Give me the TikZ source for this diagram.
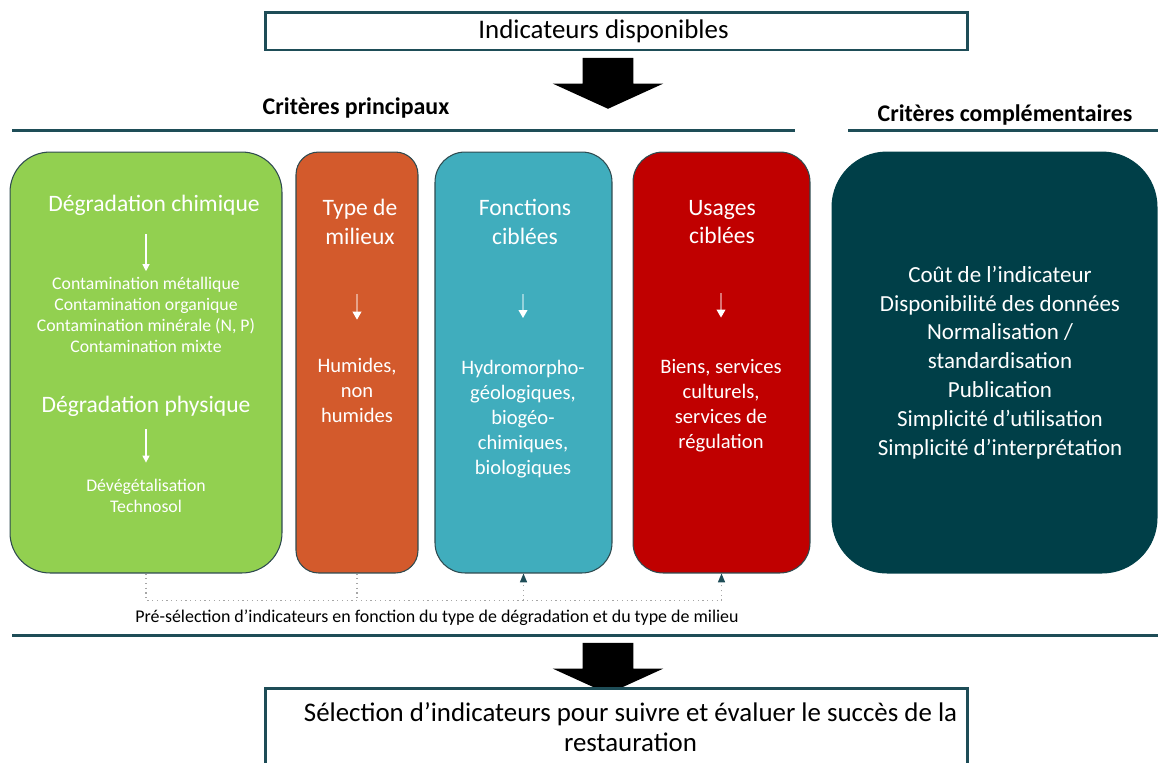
\documentclass[tikz,border=0pt]{standalone}
\usepackage{fontspec}
\setmainfont{Carlito}
\usetikzlibrary{arrows.meta,shapes.arrows}

\definecolor{vert}{HTML}{92D050}
\definecolor{orangebox}{HTML}{D35A2C}
\definecolor{tealbox}{HTML}{40ADBD}
\definecolor{redbox}{HTML}{C00000}
\definecolor{darkbox}{HTML}{003F48}
\definecolor{boxline}{HTML}{2E4A4F}
\definecolor{rule}{HTML}{1E4D57}
\definecolor{dots}{HTML}{A6A6A6}

\tikzset{
  crit/.style={draw=boxline, line width=0.6pt, minimum height=8.42cm, inner sep=0pt},
  titlebox/.style={draw=rule, line width=1.7pt, fill=white, minimum width=14.06cm,
    font=\fontsize{15.3}{17}\selectfont},
  crittitle/.style={font=\bfseries\fontsize{13.6}{16}\selectfont},
  heading/.style={text=white, align=center, font=\fontsize{13.4}{16.4}\selectfont},
  detail/.style={text=white, align=center, font=\fontsize{11.7}{14.2}\selectfont},
  smalldetail/.style={text=white, align=center, font=\fontsize{10.1}{11.9}\selectfont},
  complist/.style={text=white, align=center, font=\fontsize{13.1}{16.4}\selectfont},
  whitearrow/.style={white, line width=0.6pt, -{Triangle[width=4pt,length=4pt]}},
  fadearrow/.style={draw=#1!55!white, line width=0.6pt, -{Triangle[width=5pt,length=4.5pt,color=white]}},
  dotline/.style={dots, dotted, line width=0.7pt},
  dotarrow/.style={dotline, -{Triangle[width=4pt,length=5pt,color=rule]}},
  sepline/.style={rule, line width=1.7pt},
  bigarrow/.style={single arrow, fill=black, rotate=-90, inner xsep=0pt, inner ysep=0.5cm,
    minimum height=1.02cm, single arrow head extend=0.6cm, single arrow tip angle=131}
}

\begin{document}
\begin{tikzpicture}[x=0.02cm,y=-0.02cm]
  \useasboundingbox (0,0) rectangle (1158,762);

  \node[titlebox, minimum height=0.76cm] (dispo) at (616.5,31) {\hspace*{-0.52cm}Indicateurs disponibles};
  \node[bigarrow] (arrowtop) at (608,77.5) {};

  \node[crittitle] (princ) at (356,108) {Critères principaux};
  \node[crittitle] (compl) at (1005,115) {Critères complémentaires};
  \draw[sepline] (12,130) -- (795,130);
  \draw[sepline] (848,130) -- (1158,130);

  % boxes
  \node[crit, fill=vert, minimum width=5.44cm, rounded corners=0.8cm] (degr) at (146,362.5) {};
  \node[crit, fill=orangebox, minimum width=2.44cm, rounded corners=0.45cm] (milieux) at (357,362.5) {};
  \node[crit, fill=tealbox, minimum width=3.54cm, rounded corners=0.6cm] (fonctions) at (523.5,362.5) {};
  \node[crit, fill=redbox, minimum width=3.54cm, rounded corners=0.6cm] (usages) at (721.5,362.5) {};
  \node[crit, fill=darkbox, draw=darkbox, minimum width=6.5cm, rounded corners=1.1cm] (complem) at (994.5,362.5) {};

  \node[heading] (chim) at (154,205) {Dégradation chimique};
  \node[smalldetail] (chimlist) at (146,315) {Contamination métallique\\Contamination organique\\Contamination minérale (N, P)\\Contamination mixte};
  \node[heading] (phys) at (146,406) {Dégradation physique};
  \node[smalldetail] (physlist) at (146,495.5) {Dévégétalisation\\Technosol};

  \node[heading] (typemil) at (360,222) {Type de\\milieux};
  \node[detail] (humides) at (357,390) {Humides,\\non\\humides};

  \node[heading] (fonc) at (525,222) {Fonctions\\ciblées};
  \node[detail] (foncdet) at (523,419) {Hydromorpho-\\géologiques,\\biogéo-\\chimiques,\\biologiques};

  \node[heading] (usag) at (722,222) {Usages\\ciblées};
  \node[detail] (usagdet) at (721,406) {Biens, services\\culturels,\\services de\\régulation};

  \node[complist] (critlist) at (1000,362.5) {Coût de l’indicateur\\Disponibilité des données\\Normalisation /\\standardisation\\Publication\\Simplicité d’utilisation\\Simplicité d’interprétation};

  \draw[whitearrow, shorten <=0.26cm] (chim.south -| chimlist.north) -- (chimlist.north);
  \draw[whitearrow, shorten <=0.14cm, shorten >=0.2cm] (phys.south -| physlist.north) -- (physlist.north);
  \draw[fadearrow=orangebox, shorten <=0.86cm, shorten >=0.64cm] (typemil.south -| humides.north) -- (humides.north);
  \draw[fadearrow=tealbox, shorten <=0.86cm, shorten >=0.72cm] (fonc.south -| foncdet.north) -- (foncdet.north);
  \draw[fadearrow=redbox, shorten <=0.86cm, shorten >=0.72cm] (usag.south -| usagdet.north) -- (usagdet.north);

  % pre-selection
  \node[font=\fontsize{10.2}{12}\selectfont] (presel) at (437,618) {Pré-sélection d’indicateurs en fonction du type de dégradation et du type de milieu};
  \draw[dotline] (degr.south) -- ++(0,27) -| (usages.south);
  \draw[dotline] (milieux.south) -- ++(0,27);
  \draw[dotarrow] (fonctions.south) ++(0,27) -- (fonctions.south);
  \draw[dotarrow] (usages.south) ++(0,27) -- (usages.south);
  \draw[sepline] (12,635) -- (1158,635);

  \node[bigarrow] (arrowbot) at (608,662.5) {};
  \node[titlebox, minimum height=1.56cm, align=center] (selection) at (616.5,727) {\hspace*{0.56cm}Sélection d’indicateurs pour suivre et évaluer le succès de la\\\hspace*{0.56cm}restauration};
\end{tikzpicture}
\end{document}
